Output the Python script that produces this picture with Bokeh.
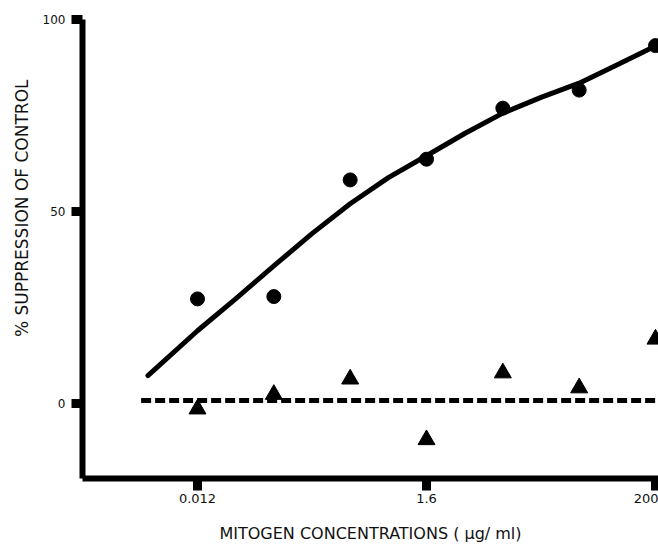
from bokeh.plotting import figure
from bokeh.models import FixedTicker, Range1d, Title
from bokeh.embed import file_html
from bokeh.resources import INLINE

# Mitogen concentrations (µg/ml), log-spaced by factor 5
conc = [0.0128, 0.064, 0.32, 1.6, 8, 40, 200]
# % suppression of control
suppression_circles = [27.2, 27.8, 58.2, 63.6, 76.9, 81.6, 93.2]
suppression_triangles = [-1.5, 2.3, 6.3, -9.5, 7.9, 4.0, 16.7]
# fitted curve
fit_conc = [0.0045, 0.0128, 0.0286, 0.064, 0.143, 0.32, 0.716, 1.6,
            3.58, 8, 17.9, 40, 89.4, 200]
fit_curve = [7.2, 18.9, 27.2, 35.8, 44.2, 52.0, 58.8, 64.5,
             70.3, 75.6, 79.7, 83.4, 88.2, 93.1]
# dashed baseline
baseline_conc = [0.0039, 230]
baseline_level = [0.7, 0.7]

x_ticks = [0.0128, 1.6, 200]
x_tick_labels = ["0.012", "1.6", "200"]
y_ticks = [0, 50, 100]

FONT = "DejaVu Sans"
INK = "#111111"

p = figure(width=658, height=546, x_axis_type="log",
           x_range=Range1d(0.001133, 213), y_range=Range1d(-19.6, 100),
           output_backend="svg", toolbar_location=None,
           min_border_left=82, min_border_right=0, min_border_top=19,
           min_border_bottom=68)
p.outline_line_color = None
p.xgrid.visible = False
p.ygrid.visible = False
p.background_fill_color = "white"
p.border_fill_color = "white"

p.line(fit_conc, fit_curve, line_color="black", line_width=5, line_join="round", line_cap="round")
p.line(baseline_conc, baseline_level, line_color="black", line_width=5, line_dash="10 4")
p.scatter(conc, suppression_circles, marker="circle", size=14, color="black")
p.scatter(conc, suppression_triangles, marker="triangle", size=17, color="black")

for ax in (p.xaxis[0], p.yaxis[0]):
    ax.axis_line_color = "black"
    ax.axis_line_width = 6
    ax.major_tick_line_color = "black"
    ax.major_tick_line_width = 9
    ax.major_tick_in = 0
    ax.minor_tick_line_color = None
    ax.major_label_text_font = FONT
    ax.major_label_text_color = INK

p.xaxis.ticker = FixedTicker(ticks=x_ticks)
p.xaxis.major_label_overrides = {t: l for t, l in zip(x_ticks, x_tick_labels)}
p.xaxis.major_tick_out = 12
p.xaxis.major_label_standoff = 3
p.xaxis.major_label_text_font_size = "13px"
p.xaxis.axis_label = "MITOGEN CONCENTRATIONS ( μg/ ml)"
p.xaxis.axis_label_text_font = FONT
p.xaxis.axis_label_text_font_size = "16px"
p.xaxis.axis_label_text_font_style = "normal"
p.xaxis.axis_label_text_color = INK
p.xaxis.axis_label_standoff = 18

p.yaxis.ticker = FixedTicker(ticks=y_ticks)
p.yaxis.major_tick_out = 11
p.yaxis.major_label_standoff = 6
p.yaxis.major_label_text_font_size = "12px"

ytitle = Title(text="% SUPPRESSION OF CONTROL", align="right", offset=60,
               standoff=16, text_font=FONT, text_font_size="17px",
               text_font_style="normal", text_color=INK)
p.add_layout(ytitle, "left")

open("out.html", "w").write(file_html(p, INLINE))
